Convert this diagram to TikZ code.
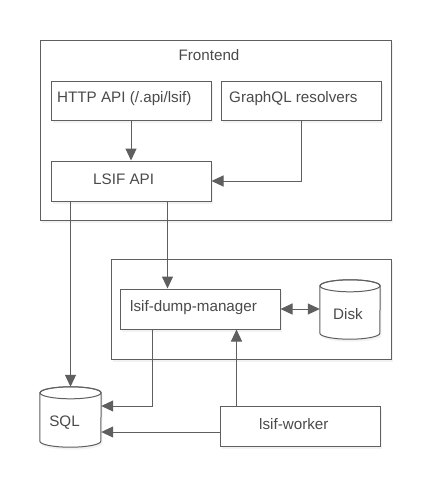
\documentclass[tikz,border=0pt]{standalone}
\usepackage{fontspec}
\setmainfont{Liberation Sans}
\usetikzlibrary{arrows.meta,shadows,calc}
\definecolor{ln}{HTML}{5F5F5F}
\definecolor{tx}{HTML}{4A4A4A}
\tikzset{
  every node/.style={font=\fontsize{15.2}{18}\selectfont, text=tx},
  box/.style={draw=ln, line width=1pt, fill=white, inner sep=0pt, rectangle,
    drop shadow={opacity=0.10, shadow xshift=1.5pt, shadow yshift=-2.5pt}},
  grp/.style={draw=ln, line width=1pt, fill=white,
    drop shadow={opacity=0.10, shadow xshift=1.5pt, shadow yshift=-2.5pt}},
  cylbox/.style={inner sep=0pt, rectangle, draw=none},
  cylline/.style={draw=ln, line width=1pt, fill=white},
  lbl/.style={anchor=west, inner sep=0pt},
  arr/.style={draw=ln, line width=1pt, -{Triangle[length=12pt,width=11pt]}},
  darr/.style={draw=ln, line width=1pt, {Triangle[length=12pt,width=11pt]}-{Triangle[length=12pt,width=11pt]}},
}
\begin{document}
\begin{tikzpicture}[x=1pt,y=-1pt]
\useasboundingbox[fill=white] (0,0) rectangle (430,487);
% group boxes
\draw[grp] (40,41) rectangle (391,220);
\node[inner sep=0pt] (fe) at (209,55) {Frontend};
\draw[grp] (111,259) rectangle (391,359);
% boxes
\node[box, minimum width=160pt, minimum height=39pt] (http) at (131,100.5) {};
\node[lbl] (httpT) at (57,98.5) {HTTP API (/.api/lsif)};
\node[box, minimum width=160pt, minimum height=39pt] (gql) at (301,100.5) {};
\node[lbl] (gqlT) at (229,98.5) {GraphQL resolvers};
\node[box, minimum width=160pt, minimum height=40pt] (lsif) at (131,181) {};
\node[lbl] (lsifT) at (93,179) {LSIF API};
\node[box, minimum width=160pt, minimum height=40pt] (dump) at (200,309) {};
\node[lbl] (dumpT) at (130,307.5) {lsif-dump-manager};
\node[box, minimum width=160pt, minimum height=40pt] (worker) at (300,426) {};
\node[lbl] (workerT) at (259,424) {lsif-worker};
% cylinders
\node[cylbox, minimum width=61pt, minimum height=60pt] (sql) at (70.5,417) {};
\node[cylbox, minimum width=60pt, minimum height=59pt] (disk) at (350,309.5) {};
\foreach \c/\rx in {sql/30.5pt, disk/30pt}{
  \path[cylline, drop shadow={opacity=0.10, shadow xshift=1.5pt, shadow yshift=-2.5pt}]
    ($(\c.north west)+(0,6)$) -- ($(\c.south west)+(0,-6)$)
    arc[start angle=180, end angle=360, x radius=\rx, y radius=6pt]
    -- ($(\c.north east)+(0,6)$)
    arc[start angle=0, end angle=180, x radius=\rx, y radius=6pt] -- cycle;
  \draw[draw=ln, line width=1pt] ($(\c.north)+(0,6)$) ellipse[x radius=\rx, y radius=6pt];
}
\node[inner sep=0pt] (sqlT) at (64.5,423) {SQL};
\node[inner sep=0pt] (diskT) at (348,314) {Disk};
% connectors
\draw[arr] (http.south) -- (lsif.north);
\draw[arr] (gql.south) |- (lsif.east);
\draw[arr] (lsif.south -| sql.north) -- (sql.north);
\coordinate (a) at ($(lsif.south west)+(117,0)$);
\draw[arr] (a) -- (a |- dump.north);
\draw[darr] (dump.east) -- (disk.west |- dump.east);
\coordinate (b) at ($(dump.south west)+(33,0)$);
\draw[arr] (b) |- ($(sql.east)+(0,-11)$);
\coordinate (c) at ($(worker.west)+(0,6)$);
\draw[arr] (c) -- (c -| sql.east);
\coordinate (d) at ($(worker.north west)+(17,0)$);
\draw[arr] (d) -- (d |- dump.south);
\end{tikzpicture}
\end{document}
